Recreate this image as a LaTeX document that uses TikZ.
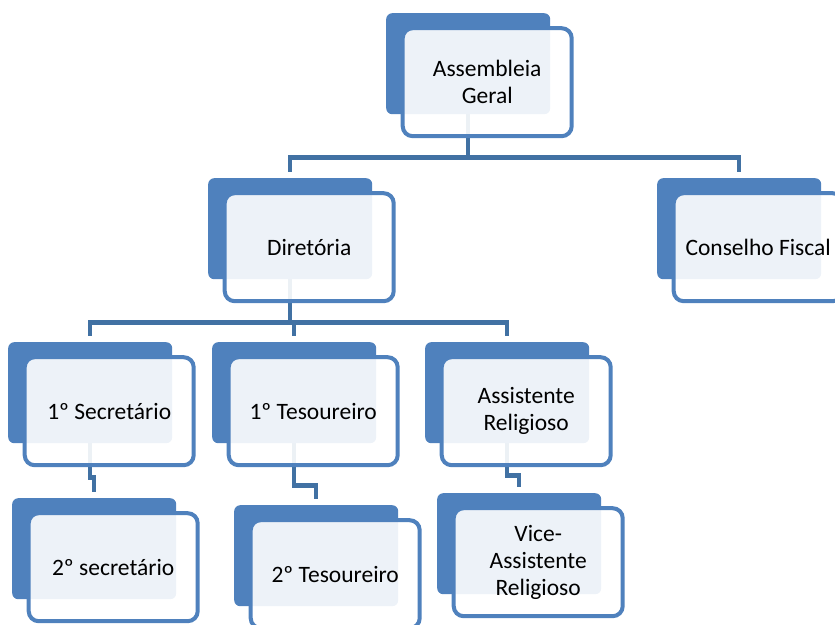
\documentclass[tikz,border=0pt]{standalone}
\usepackage{fontspec}
\setmainfont{Carlito}
\usetikzlibrary{calc,backgrounds}
\definecolor{boxblue}{RGB}{79,129,189}
\definecolor{linkblue}{RGB}{65,113,163}

\begin{document}
\begin{tikzpicture}[x=1pt, y=-1pt,
  backbox/.style={fill=boxblue, rounded corners=6pt, minimum width=164pt, minimum height=101pt, inner sep=0pt, anchor=north west},
  frontbox/.style={draw=boxblue, line width=4pt, fill=white, fill opacity=0.9, text opacity=1, rounded corners=10pt, minimum width=169pt, minimum height=108pt, inner sep=0pt, align=center, font=\fontsize{23.5}{27}\selectfont, xshift=19pt, yshift=-18.5pt},
  link/.style={draw=linkblue, line width=4.5pt, shorten >=6pt}]
\useasboundingbox (0,0) rectangle (835,624);
\clip (0,0) rectangle (835,624);
% Draw back boxes
\node[backbox] (agb) at (386,13) {};
\node[backbox] (dirb) at (208,178) {};
\node[backbox] (cfb) at (657,178) {};
\node[backbox] (s1b) at (8,342) {};
\node[backbox] (t1b) at (212,342) {};
\node[backbox] (arb) at (425,342) {};
\node[backbox] (s2b) at (12,498) {};
\node[backbox] (t2b) at (234,505) {};
\node[backbox] (varb) at (437,493) {};
% Draw front boxes
\node[frontbox] (ag) at (agb.center) {Assembleia\\Geral};
\node[frontbox] (dir) at (dirb.center) {Diretória};
\node[frontbox] (cf) at (cfb.center) {Conselho Fiscal};
\node[frontbox] (s1) at (s1b.center) {1º Secretário};
\node[frontbox] (t1) at (t1b.center) {1º Tesoureiro};
\node[frontbox] (ar) at (arb.center) {Assistente\\Religioso};
\node[frontbox] (s2) at (s2b.center) {2º secretário};
\node[frontbox] (t2) at (t2b.center) {2º Tesoureiro};
\node[frontbox] (var) at (varb.center) {Vice-\\Assistente\\Religioso};
% Draw connectors
\begin{scope}[on background layer]
\draw[link] (agb.center) -- ($(agb.south)+(0,43)$) coordinate (agbus) -| (dirb.north);
\draw[link] (agbus) -| (cfb.north);
\draw[link] (dirb.center) -- ($(dirb.south)+(0,43)$) coordinate (dirbus) -| (s1b.north);
\draw[link] (dirbus) -| (t1b.north);
\draw[link] (dirbus) -| (arb.north);
\draw[link] (s1b.center) -- ($(s1b.south)+(0,34)$) -| (s2b.north);
\draw[link] (t1b.center) -- ($(t1b.south)+(0,42)$) -| (t2b.north);
\draw[link] (arb.center) -- ($(arb.south)+(0,32)$) -| (varb.north);
\end{scope}
\end{tikzpicture}
\end{document}
